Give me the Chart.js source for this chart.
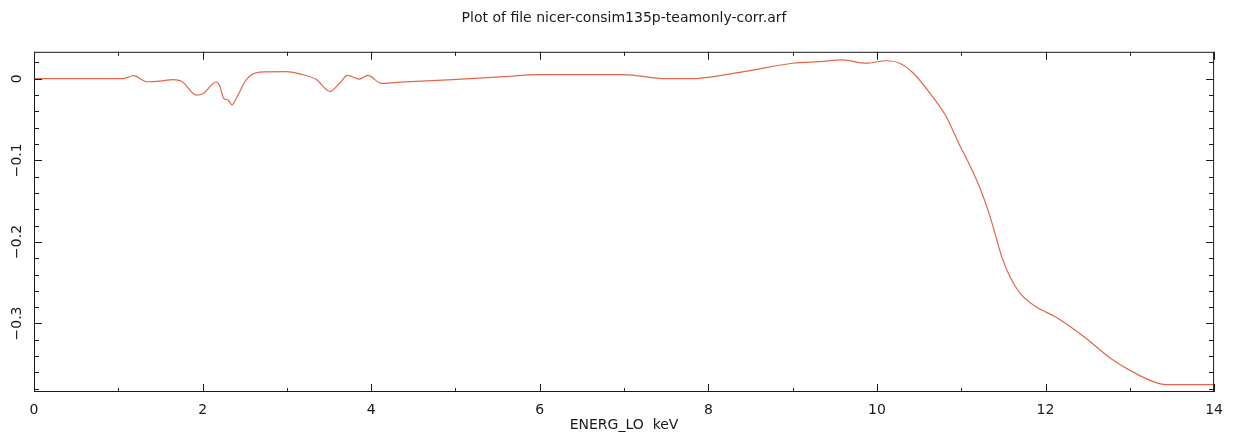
<!DOCTYPE html>
<html>
<head>
<meta charset="utf-8">
<script src="https://cdn.jsdelivr.net/npm/chart.js@4"></script>
<style>
  html, body { margin: 0; padding: 0; background: #fff; }
  #wrap { width: 1233px; height: 436px; }
</style>
</head>
<body>
<div id="wrap"><canvas id="arfChart" width="1233" height="436"></canvas></div>
<script>
// energy (keV) and ARF correction
const energy = [0, 1.05, 1.18, 1.34, 1.49, 1.65, 1.75, 1.93, 2.01, 2.16, 2.20, 2.25, 2.30, 2.35, 2.40,
  2.52, 2.68, 2.99, 3.15, 3.35, 3.51, 3.63, 3.72, 3.86, 3.96, 4.12, 4.30, 4.60, 4.97, 5.64, 5.96,
  6.99, 7.50, 7.82, 8.02, 8.49, 9.00, 9.32, 9.59, 9.87, 10.11, 10.27, 10.43, 10.66, 10.82, 10.97,
  11.11, 11.23, 11.33, 11.41, 11.48, 11.58, 11.70, 11.88, 12.12, 12.24, 12.48, 12.75, 13.03, 13.27, 13.43, 14.0];
const arf = [0, 0, 0.0037, -0.0037, -0.003, -0.001, -0.003, -0.020, -0.018, -0.004, -0.008, -0.024, -0.026, -0.032, -0.024,
  -0.001, 0.008, 0.0086, 0.006, -0.001, -0.0155, -0.005, 0.004, -0.0004, 0.004, -0.0057, -0.0045, -0.003, -0.001, 0.003, 0.005,
  0.005, 0, 0, 0.002, 0.010, 0.019, 0.021, 0.023, 0.019, 0.022, 0.019, 0.007, -0.022, -0.046, -0.079,
  -0.108, -0.136, -0.165, -0.193, -0.218, -0.243, -0.263, -0.279, -0.292, -0.300, -0.318, -0.341, -0.359, -0.371, -0.375, -0.375];

const xTicks = [0, 2, 4, 6, 8, 10, 12, 14];
const xMinorTicks = [1, 3, 5, 7, 9, 11, 13];
const yTicks = [0, -0.1, -0.2, -0.3];
const yMinorTicks = [0.02, -0.02, -0.04, -0.06, -0.08, -0.12, -0.14, -0.16, -0.18,
  -0.22, -0.24, -0.26, -0.28, -0.32, -0.34, -0.36, -0.38];

const ink = '#1a1a1a';
const fontFam = '"DejaVu Sans", sans-serif';

// frame + inward ticks on all four sides, like the PGPLOT box
const boxPlugin = {
  id: 'box',
  afterDatasetsDraw(chart) {
    const ctx = chart.ctx;
    const a = chart.chartArea;
    const sx = chart.scales.x, sy = chart.scales.y;
    ctx.save();
    ctx.strokeStyle = ink;
    ctx.lineWidth = 1;
    ctx.strokeRect(a.left + 0.5, a.top + 0.5, a.right - a.left - 1, a.bottom - a.top - 1);
    ctx.beginPath();
    const xt = (v, len) => {
      const px = Math.round(sx.getPixelForValue(v)) + 0.5;
      ctx.moveTo(px, a.bottom); ctx.lineTo(px, a.bottom - len);
      ctx.moveTo(px, a.top); ctx.lineTo(px, a.top + len);
    };
    const yt = (v, len) => {
      const py = Math.round(sy.getPixelForValue(v)) + 0.5;
      ctx.moveTo(a.left, py); ctx.lineTo(a.left + len, py);
      ctx.moveTo(a.right, py); ctx.lineTo(a.right - len, py);
    };
    xTicks.forEach(v => xt(v, 8));
    xMinorTicks.forEach(v => xt(v, 4));
    yTicks.forEach(v => yt(v, 8));
    yMinorTicks.forEach(v => yt(v, 5));
    ctx.stroke();
    ctx.restore();
  }
};

new Chart(document.getElementById('arfChart'), {
  type: 'line',
  data: {
    datasets: [{
      data: energy.map((e, i) => ({ x: e, y: arf[i] })),
      borderColor: '#e2674a',
      borderWidth: 1.2,
      pointRadius: 0,
      cubicInterpolationMode: 'monotone',
      fill: false
    }]
  },
  options: {
    responsive: false,
    animation: false,
    layout: { padding: { right: 17 } },
    plugins: {
      legend: { display: false },
      tooltip: { enabled: false },
      title: {
        display: true,
        fullSize: false,
        text: 'Plot of file nicer-consim135p-teamonly-corr.arf',
        color: ink,
        font: { family: fontFam, size: 14, weight: 'normal' },
        padding: { top: 10, bottom: 25 }
      }
    },
    scales: {
      x: {
        type: 'linear',
        min: 0, max: 14,
        afterBuildTicks: s => { s.ticks = xTicks.map(v => ({ value: v })); },
        afterFit: s => { s.height = 44; },
        grid: { display: false, drawTicks: false },
        border: { display: false },
        ticks: {
          color: ink, padding: 10, maxRotation: 0,
          font: { family: fontFam, size: 14 }
        },
        title: {
          display: true,
          text: 'ENERG_LO  keV',
          color: ink,
          font: { family: fontFam, size: 14 },
          padding: { top: 0, bottom: 2 }
        }
      },
      y: {
        type: 'linear',
        min: -0.384, max: 0.033,
        afterBuildTicks: s => { s.ticks = yTicks.map(v => ({ value: v })); },
        afterFit: s => { s.width = 34; },
        grid: { display: false, drawTicks: false },
        border: { display: false },
        ticks: {
          color: ink, padding: 0, minRotation: 90, maxRotation: 90,
          crossAlign: 'center',
          font: { family: fontFam, size: 14 },
          callback: v => (v === 0 ? '0' : String(v).replace('-', '\u2212'))
        }
      }
    }
  },
  plugins: [boxPlugin]
});
</script>
</body>
</html>
